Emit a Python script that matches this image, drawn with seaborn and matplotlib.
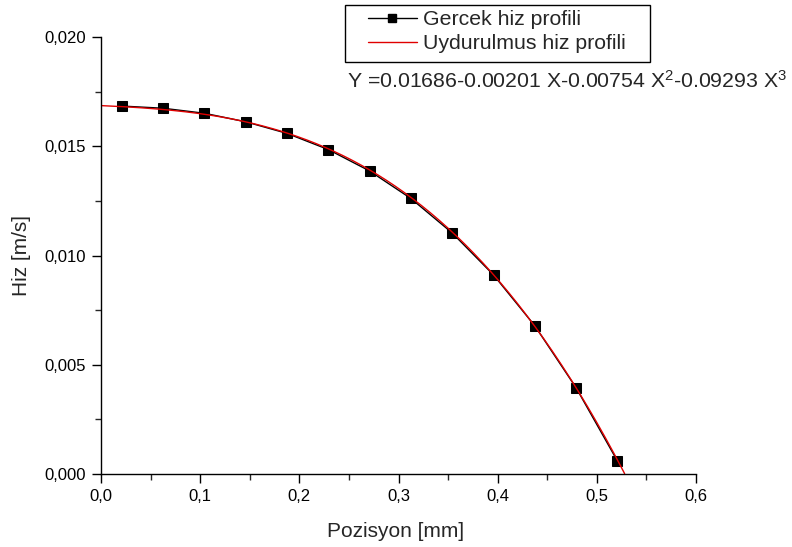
import numpy as np
import pandas as pd
import matplotlib
matplotlib.use("Agg")
import matplotlib.pyplot as plt
import seaborn as sns
from matplotlib.ticker import FixedLocator, FixedFormatter, MultipleLocator
from matplotlib.lines import Line2D
from matplotlib.patches import Rectangle

# ---- data ----
pozisyon = [0.02083, 0.06250, 0.10417, 0.14583, 0.18750, 0.22917, 0.27083,
            0.31250, 0.35417, 0.39583, 0.43750, 0.47917, 0.52083]
hiz = [0.01684, 0.01674, 0.01651, 0.01612, 0.01559, 0.01485, 0.01387,
       0.01261, 0.01103, 0.00911, 0.00678, 0.00394, 0.00059]
# fitted polynomial stated in the chart: Y = a0 + a1 X + a2 X^2 + a3 X^3
fit_coefs = [0.01686, -0.00201, -0.00754, -0.09293]
fit_x_range = [0.0, 0.528]

xticks = [0.0, 0.1, 0.2, 0.3, 0.4, 0.5, 0.6]
xtick_labels = ["0,0", "0,1", "0,2", "0,3", "0,4", "0,5", "0,6"]
yticks = [0.000, 0.005, 0.010, 0.015, 0.020]
ytick_labels = ["0,000", "0,005", "0,010", "0,015", "0,020"]

series_names = ["Gercek hiz profili", "Uydurulmus hiz profili"]
equation = "Y =0.01686-0.00201 X-0.00754 X$^{2}$-0.09293 X$^{3}$"

# ---- style ----
sns.set_style("ticks")
plt.rcParams["font.family"] = ["Liberation Sans", "DejaVu Sans"]
plt.rcParams["mathtext.default"] = "regular"

W, H = 792, 547
fig = plt.figure(figsize=(W / 100, H / 100), dpi=100)
ax = fig.add_axes([101 / W, (H - 474) / H, 595 / W, 437 / H])

df = pd.DataFrame({"x": pozisyon, "y": hiz})
fx = np.linspace(fit_x_range[0], fit_x_range[1], 300)
fy = np.polyval(fit_coefs[::-1], fx)
dff = pd.DataFrame({"x": fx, "y": fy})

sns.lineplot(data=df, x="x", y="y", ax=ax, color="black", marker="s",
             markersize=6.5, markeredgecolor="black", linewidth=1.0,
             sort=False)
sns.lineplot(data=dff, x="x", y="y", ax=ax, color="#e00000",
             linewidth=1.0, sort=False)

ax.set_xlim(0, 0.6)
ax.set_ylim(0, 0.020)
ax.xaxis.set_major_locator(FixedLocator(xticks))
ax.xaxis.set_major_formatter(FixedFormatter(xtick_labels))
ax.yaxis.set_major_locator(FixedLocator(yticks))
ax.yaxis.set_major_formatter(FixedFormatter(ytick_labels))
ax.xaxis.set_minor_locator(MultipleLocator(0.05))
ax.yaxis.set_minor_locator(MultipleLocator(0.0025))
ax.tick_params(which="major", direction="out", length=6.5, width=1.0,
               labelsize=12, colors="black", pad=4.5)
ax.tick_params(which="minor", direction="out", length=4.5, width=1.0)
for s in ["top", "right"]:
    ax.spines[s].set_visible(False)
for s in ["left", "bottom"]:
    ax.spines[s].set_linewidth(1.0)
    ax.spines[s].set_color("black")

ax.set_xlabel("Pozisyon [mm]", fontsize=15)
ax.set_ylabel("Hiz [m/s]", fontsize=15)
ax.xaxis.set_label_coords(0.5, (H - 537) / H, transform=fig.transFigure)
ax.xaxis.label.set_va("baseline")
ax.yaxis.set_label_coords(-79 / 595, 0.5)
ax.yaxis.label.set_va("center")

handles = [
    Line2D([], [], color="black", marker="s", markersize=6, linewidth=1.0),
    Line2D([], [], color="#e00000", linewidth=1.0),
]
leg = fig.legend(handles, series_names, loc="upper left",
                 bbox_to_anchor=(368 / W, 1 - 10 / H),
                 frameon=False, fontsize=15.3,
                 handlelength=2.3, handletextpad=0.3, borderpad=0,
                 labelspacing=0.25, borderaxespad=0)
fig.patches.append(Rectangle((345 / W, 1 - 62 / H), 305 / W, 57 / H,
                             transform=fig.transFigure, fill=False,
                             edgecolor="black", linewidth=1.0))

fig.text(347 / W, 1 - 88 / H, equation, fontsize=15.3,
         ha="left", va="baseline")

fig.savefig("out.png", dpi=100, facecolor="white")
